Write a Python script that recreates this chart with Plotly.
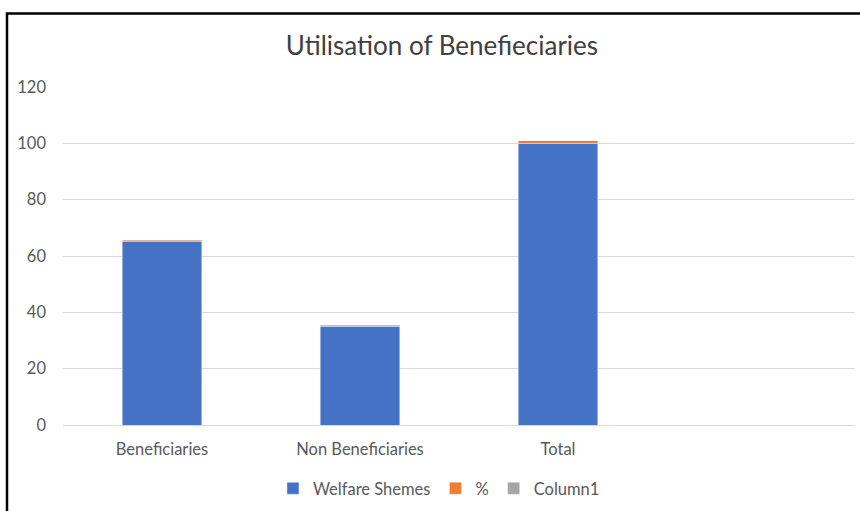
import plotly.graph_objects as go

categories = ["Beneficiaries", "Non Beneficiaries", "Total", " "]
welfare_shemes = [65, 35, 100, None]
percent = [0.65, 0.35, 1.0, None]
column1 = [None, None, None, None]
y_ticks = [0, 20, 40, 60, 80, 100, 120]

TXT = "#595959"
FONT = "Lato"

fig = go.Figure()
fig.add_bar(x=categories, y=welfare_shemes, name="Welfare Shemes", marker_color="#4472C4")
fig.add_bar(x=categories, y=percent, name="%", marker_color="#ED7D31")
fig.add_bar(x=categories, y=column1, name="Column1", marker_color="#A5A5A5")

fig.update_layout(
    width=860, height=511,
    margin=dict(l=63, r=5, t=87, b=84),
    barmode="stack", bargap=0.6,
    paper_bgcolor="white", plot_bgcolor="white",
    font=dict(family=FONT, color=TXT, size=16.5),
    title=dict(text="Utilisation of Benefieciaries", font=dict(family=FONT, size=26, color="#404040"),
               x=0.4785, xref="paper", xanchor="center", y=1 - 46 / 511, yanchor="middle"),
    legend=dict(orientation="h", x=0.4747, xanchor="center", y=-0.188, yanchor="middle",
                font=dict(size=16.5, color=TXT), itemwidth=30, traceorder="normal"),
    showlegend=True,
    shapes=[dict(type="rect", xref="paper", yref="paper", x0=-0.0707, x1=1.03, y0=-0.3, y1=1.2176,
                 line=dict(color="black", width=2.5), fillcolor="rgba(0,0,0,0)", layer="above")],
)
fig.update_xaxes(type="category", categoryorder="array", categoryarray=categories,
                 showgrid=False, showline=False, ticks="", ticklabelstandoff=12,
                 tickfont=dict(size=16.5, color=TXT), fixedrange=True)
fig.update_yaxes(range=[0, 120], tickvals=y_ticks, showgrid=True, gridcolor="#d9d9d9", gridwidth=1,
                 zeroline=True, zerolinecolor="#d9d9d9", zerolinewidth=1, showline=False,
                 ticks="", ticklabelstandoff=16, tickfont=dict(size=16.5, color=TXT))

fig.write_html("out.html", config={"displayModeBar": False},
               post_script="document.body.style.margin='0';")
